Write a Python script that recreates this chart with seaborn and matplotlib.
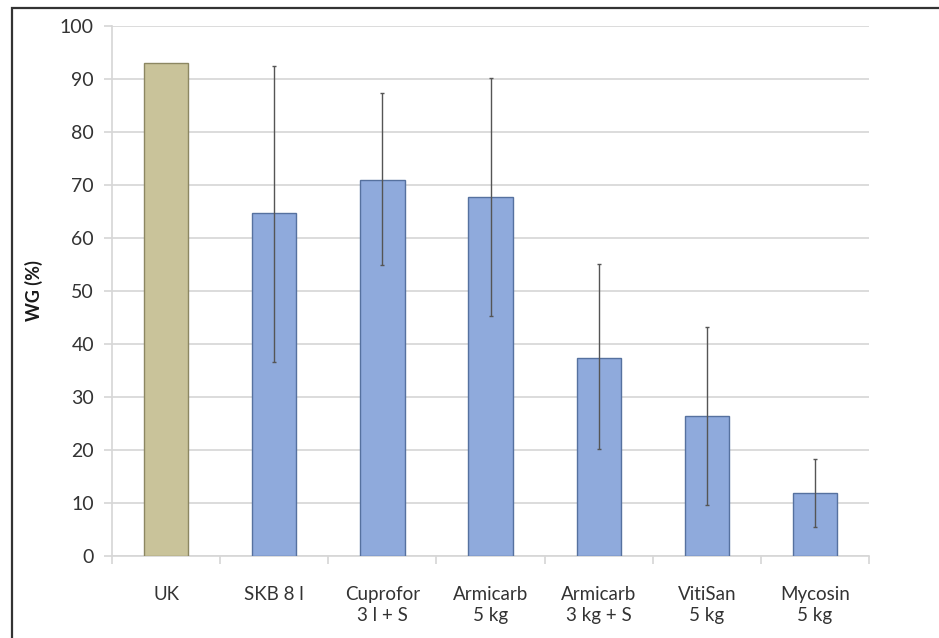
import matplotlib
matplotlib.use("Agg")
import matplotlib.pyplot as plt
import seaborn as sns
import numpy as np
import pandas as pd
from matplotlib.patches import Rectangle

categories = ["UK", "SKB 8 l", "Cuprofor\n3 l + S", "Armicarb\n5 kg",
              "Armicarb\n3 kg + S", "VitiSan\n5 kg", "Mycosin\n5 kg"]
values = [93.0, 64.7, 71.0, 67.7, 37.4, 26.5, 12.0]
err_upper = [np.nan, 92.5, 87.4, 90.1, 55.1, 43.3, 18.3]
err_lower = [np.nan, 36.7, 54.9, 45.2, 20.2, 9.7, 5.5]
bar_colors = ["#C9C39A", "#8FAADC", "#8FAADC", "#8FAADC", "#8FAADC", "#8FAADC", "#8FAADC"]
edge_colors = ["#8C8762", "#56719F", "#56719F", "#56719F", "#56719F", "#56719F", "#56719F"]
y_ticks = [0, 10, 20, 30, 40, 50, 60, 70, 80, 90, 100]

sns.set_theme(style="white")
plt.rcParams['font.family'] = ['Lato', 'DejaVu Sans']

fig = plt.figure(figsize=(9.39, 6.38), dpi=100)
ax = fig.add_axes([0.1193, 0.128, 0.8062, 0.8317])

df = pd.DataFrame({"cat": categories, "val": values})
sns.barplot(data=df, x="cat", y="val", hue="cat", palette=bar_colors,
            width=0.41, legend=False, ax=ax, saturation=1)
for patch, ec in zip(ax.patches, edge_colors):
    patch.set_edgecolor(ec)
    patch.set_linewidth(1.0)
    patch.set_zorder(3)

x = np.arange(len(categories))
vals = np.array(values)
up = np.array(err_upper) - vals
lo = vals - np.array(err_lower)
ax.errorbar(x, vals, yerr=[lo, up], fmt="none", ecolor="#555555",
            elinewidth=1.0, capsize=1.5, capthick=1.0, zorder=4)

ax.set_ylim(0, 100)
ax.set_xlim(-0.5, len(categories) - 0.5)
ax.set_yticks(y_ticks)
ax.yaxis.grid(True, color="#D6D6D6", linewidth=1.2, zorder=0)
ax.set_axisbelow(True)
for s in ["top", "right"]:
    ax.spines[s].set_visible(False)
ax.spines["left"].set_color("#D6D6D6")
ax.spines["bottom"].set_color("#D6D6D6")
ax.spines["left"].set_linewidth(1.2)
ax.spines["bottom"].set_linewidth(1.2)

ax.tick_params(axis="y", which="major", length=6, width=1.2, color="#D6D6D6",
               labelsize=14, labelcolor="#333333", pad=7, left=True)
ax.set_xticks(x)
ax.set_xticklabels(categories, fontsize=13.5, color="#333333", linespacing=1.35)
ax.tick_params(axis="x", which="major", length=0, pad=21)
ax.set_xticks(np.arange(len(categories) + 1) - 0.5, minor=True)
ax.tick_params(axis="x", which="minor", length=6, width=1.2, color="#D6D6D6",
               bottom=True, direction="out")
for lbl in ax.get_xticklabels():
    lbl.set_verticalalignment("top")

ax.set_xlabel("")
ax.set_ylabel("WG (%)", fontsize=13, fontweight="bold", color="#1a1a1a", labelpad=12)

fig.patches.append(Rectangle((12 / 939, -0.1), 1.2, 1.1 - 8 / 638,
                             transform=fig.transFigure, fill=False,
                             edgecolor="#333333", linewidth=1.6, zorder=10))

fig.savefig("out.png", dpi=100)
